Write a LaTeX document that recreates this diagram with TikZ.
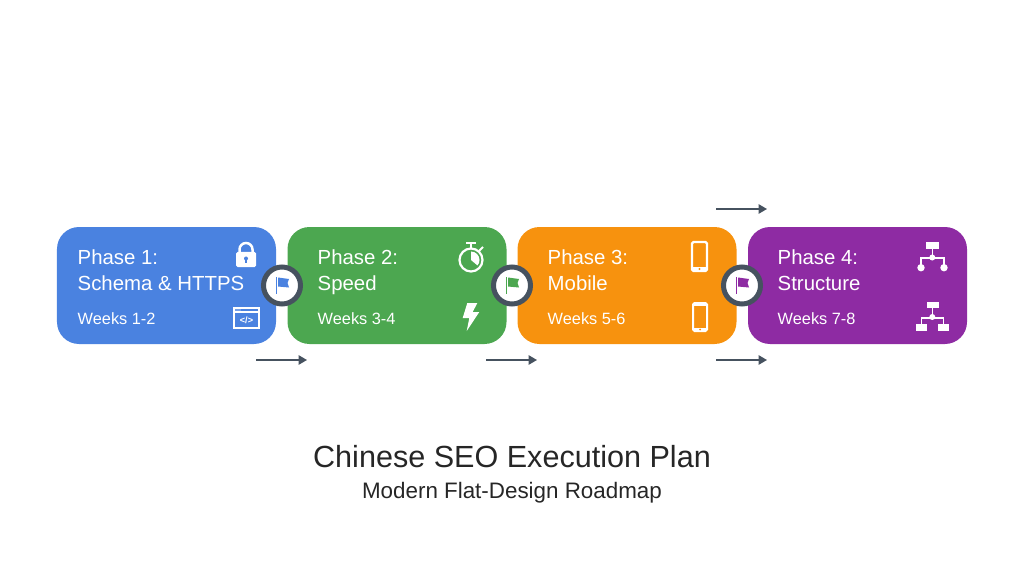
\documentclass[tikz,border=0pt]{standalone}
\usepackage{fontspec}
\setmainfont{Liberation Sans}
\usetikzlibrary{arrows.meta,calc}
\definecolor{phaseblue}{HTML}{4A82E0}
\definecolor{phasegreen}{HTML}{4CA750}
\definecolor{phaseorange}{HTML}{F7920E}
\definecolor{phasepurple}{HTML}{8E2BA3}
\definecolor{slategrey}{HTML}{46525F}
\tikzset{
  phasebox/.style={draw=none, rounded corners=.22cm, minimum width=2.19cm, minimum height=1.17cm},
  phasetext/.style={text=white, font=\fontsize{5.8}{7.4}\selectfont, align=left, anchor=north west, inner sep=0pt},
  weektext/.style={text=white, font=\fontsize{4.65}{5.5}\selectfont, anchor=west, inner sep=0pt},
  badge/.style={circle, draw=slategrey, line width=.05cm, fill=white, minimum size=.37cm, inner sep=0pt},
  flow/.style={-{Triangle[length=.085cm,width=.095cm]}, draw=slategrey, line width=.015cm},
  icon/.style={white, line width=.016cm},
}
% flag inside a badge, #2 colour
\newcommand{\flag}[2]{
  \fill[#2] ($(#1)+(-.058,.085)$) rectangle ($(#1)+(-.046,-.085)$);
  \fill[#2] ($(#1)+(-.04,.08)$) -- ($(#1)+(.07,.065)$) -- ($(#1)+(.055,.025)$) -- ($(#1)+(.07,-.02)$) -- ($(#1)+(-.04,-.01)$) -- cycle;
}
\begin{document}
\begin{tikzpicture}
\useasboundingbox (0,0) rectangle (10.24,5.71);
\node[phasebox, fill=phaseblue] (P1) at (1.665,2.855) {};
\node[phasebox, fill=phasegreen] (P2) at (3.97,2.855) {};
\node[phasebox, fill=phaseorange] (P3) at (6.27,2.855) {};
\node[phasebox, fill=phasepurple] (P4) at (8.575,2.855) {};
\node[phasetext] (T1) at (.77,3.215) {Phase 1:\\Schema \& HTTPS};
\node[phasetext] (T2) at (3.17,3.215) {Phase 2:\\Speed};
\node[phasetext] (T3) at (5.47,3.215) {Phase 3:\\Mobile};
\node[phasetext] (T4) at (7.77,3.215) {Phase 4:\\Structure};
\node[weektext] (W1) at (.77,2.52) {Weeks 1-2};
\node[weektext] (W2) at (3.17,2.52) {Weeks 3-4};
\node[weektext] (W3) at (5.47,2.52) {Weeks 5-6};
\node[weektext] (W4) at (7.77,2.52) {Weeks 7-8};
\node[badge] (B1) at (2.82,2.855) {};
\node[badge] (B2) at (5.12,2.855) {};
\node[badge] (B3) at (7.42,2.855) {};
\flag{B1}{phaseblue}
\flag{B2}{phasegreen}
\flag{B3}{phasepurple}
\coordinate (A1s) at (2.56,2.11);
\coordinate (A1e) at (3.07,2.11);
\coordinate (A2s) at (4.86,2.11);
\coordinate (A2e) at (5.37,2.11);
\coordinate (A3s) at (7.16,2.11);
\coordinate (A3e) at (7.67,2.11);
\coordinate (A4s) at (7.16,3.62);
\coordinate (A4e) at (7.67,3.62);
\draw[flow] (A1s) -- (A1e);
\draw[flow] (A2s) -- (A2e);
\draw[flow] (A3s) -- (A3e);
\draw[flow] (A4s) -- (A4e);
% lock
\fill[white, rounded corners=.015cm] (2.36,3.04) rectangle (2.56,3.19);
\draw[icon, line width=.025cm] (2.395,3.18) -- (2.395,3.215) arc (180:0:.065) -- (2.525,3.18);
\fill[phaseblue] (2.46,3.125) circle (.02);
\draw[phaseblue, line width=.012cm] (2.46,3.125) -- (2.46,3.08);
% code window
\draw[icon] (2.34,2.43) rectangle (2.59,2.63);
\draw[icon] (2.34,2.59) -- (2.59,2.59);
\fill[white] (2.36,2.61) circle (.006);
\fill[white] (2.38,2.61) circle (.006);
\fill[white] (2.40,2.61) circle (.006);
\node[text=white, font=\fontsize{2.6}{3}\selectfont\bfseries, inner sep=0pt] (C1) at (2.465,2.51) {</>};
% stopwatch
\draw[icon, line width=.022cm] (4.71,3.11) circle (.115);
\fill[white] (4.71,3.11) -- (4.71,3.195) arc (90:-40:.085) -- cycle;
\draw[icon, line width=.02cm] (4.66,3.28) -- (4.76,3.28);
\draw[icon, line width=.02cm] (4.71,3.28) -- (4.71,3.23);
\draw[icon, line width=.02cm] (4.79,3.20) -- (4.83,3.24);
% bolt
\fill[white] (4.673,2.68) -- (4.773,2.68) -- (4.727,2.59) -- (4.793,2.59) -- (4.667,2.40) -- (4.693,2.53) -- (4.627,2.53) -- cycle;
% phones
\draw[icon, line width=.022cm, rounded corners=.015cm] (6.92,3.00) rectangle (7.07,3.29);
\fill[white] (6.92,3.00) rectangle (7.07,3.04);
\fill[phaseorange] (6.995,3.02) circle (.012);
\draw[icon, line width=.02cm, rounded corners=.015cm] (6.93,2.40) rectangle (7.07,2.68);
\fill[white] (6.93,2.40) rectangle (7.07,2.43);
\fill[white] (6.93,2.65) rectangle (7.07,2.68);
\fill[phaseorange] (7.00,2.415) circle (.01);
% tree with round leaves
\fill[white] (9.26,3.22) rectangle (9.39,3.29);
\draw[icon] (9.323,3.22) -- (9.323,3.13);
\draw[icon] (9.21,3.05) -- (9.21,3.13) -- (9.44,3.13) -- (9.44,3.05);
\fill[white] (9.323,3.135) circle (.03);
\fill[white] (9.21,3.033) circle (.037);
\fill[white] (9.44,3.033) circle (.037);
% tree with box leaves
\fill[white] (9.27,2.63) rectangle (9.39,2.69);
\draw[icon] (9.323,2.63) -- (9.323,2.53);
\draw[icon] (9.215,2.46) -- (9.215,2.533) -- (9.435,2.533) -- (9.435,2.46);
\fill[white] (9.323,2.54) circle (.03);
\fill[white] (9.16,2.403) rectangle (9.273,2.467);
\fill[white] (9.38,2.403) rectangle (9.493,2.467);
% titles
\node[font=\fontsize{8.7}{11}\selectfont, text=black!85, inner sep=0pt] (title) at (5.12,1.14) {Chinese SEO Execution Plan};
\node[font=\fontsize{6.37}{7.5}\selectfont, text=black!85, inner sep=0pt] (subtitle) at (5.12,.78) {Modern Flat-Design Roadmap};
\end{tikzpicture}
\end{document}
